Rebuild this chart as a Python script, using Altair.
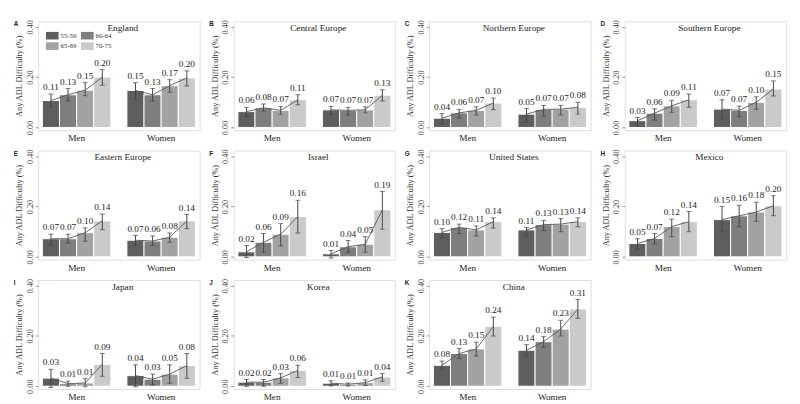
import altair as alt
import pandas as pd

ages = ["55-59", "60-64", "65-69", "70-75"]
sexes = ["Men", "Women"]
countries = ["England", "Central Europe", "Northern Europe", "Southern Europe",
             "Eastern Europe", "Israel", "United States", "Mexico",
             "Japan", "Korea", "China"]
letters = ["A", "B", "C", "D", "E", "F", "G", "H", "I", "J", "K"]

men_value = [
    [0.107, 0.130, 0.148, 0.200],
    [0.063, 0.078, 0.068, 0.110],
    [0.037, 0.058, 0.068, 0.097],
    [0.027, 0.057, 0.086, 0.110],
    [0.072, 0.072, 0.096, 0.143],
    [0.020, 0.058, 0.090, 0.160],
    [0.097, 0.117, 0.107, 0.140],
    [0.053, 0.073, 0.120, 0.140],
    [0.032, 0.010, 0.013, 0.087],
    [0.016, 0.016, 0.033, 0.063],
    [0.083, 0.130, 0.148, 0.237],
]
men_lo = [
    [0.083, 0.105, 0.126, 0.168],
    [0.046, 0.065, 0.052, 0.090],
    [0.015, 0.038, 0.050, 0.070],
    [0.010, 0.030, 0.060, 0.080],
    [0.046, 0.055, 0.062, 0.108],
    [-0.003, 0.018, 0.043, 0.095],
    [0.075, 0.093, 0.083, 0.115],
    [0.030, 0.052, 0.080, 0.100],
    [-0.005, 0.000, -0.002, 0.040],
    [0.000, 0.000, 0.012, 0.035],
    [0.068, 0.110, 0.120, 0.200],
]
men_hi = [
    [0.133, 0.155, 0.178, 0.230],
    [0.080, 0.093, 0.084, 0.130],
    [0.055, 0.072, 0.082, 0.117],
    [0.040, 0.074, 0.108, 0.133],
    [0.090, 0.090, 0.115, 0.170],
    [0.045, 0.093, 0.132, 0.225],
    [0.112, 0.130, 0.123, 0.155],
    [0.072, 0.093, 0.150, 0.180],
    [0.067, 0.020, 0.030, 0.130],
    [0.027, 0.027, 0.050, 0.083],
    [0.100, 0.150, 0.175, 0.275],
]
women_value = [
    [0.147, 0.130, 0.166, 0.197],
    [0.070, 0.068, 0.070, 0.128],
    [0.053, 0.072, 0.073, 0.080],
    [0.073, 0.068, 0.100, 0.153],
    [0.066, 0.063, 0.078, 0.143],
    [0.012, 0.040, 0.050, 0.187],
    [0.107, 0.128, 0.130, 0.140],
    [0.148, 0.163, 0.178, 0.203],
    [0.042, 0.028, 0.048, 0.082],
    [0.012, 0.008, 0.014, 0.037],
    [0.143, 0.177, 0.227, 0.307],
]
women_lo = [
    [0.112, 0.105, 0.140, 0.165],
    [0.052, 0.050, 0.058, 0.105],
    [0.022, 0.046, 0.050, 0.053],
    [0.034, 0.043, 0.072, 0.125],
    [0.045, 0.045, 0.058, 0.112],
    [-0.005, 0.018, 0.018, 0.110],
    [0.083, 0.105, 0.100, 0.120],
    [0.100, 0.120, 0.140, 0.163],
    [-0.002, 0.005, 0.012, 0.032],
    [0.002, 0.001, 0.003, 0.020],
    [0.120, 0.155, 0.200, 0.270],
]
women_hi = [
    [0.178, 0.155, 0.190, 0.225],
    [0.084, 0.080, 0.082, 0.150],
    [0.075, 0.088, 0.088, 0.100],
    [0.110, 0.085, 0.122, 0.185],
    [0.085, 0.083, 0.095, 0.168],
    [0.025, 0.065, 0.080, 0.260],
    [0.117, 0.145, 0.152, 0.155],
    [0.200, 0.205, 0.217, 0.243],
    [0.085, 0.048, 0.085, 0.130],
    [0.022, 0.013, 0.025, 0.050],
    [0.165, 0.197, 0.262, 0.345],
]

bar_colors = ["#5e5e5e", "#7e7e7e", "#a2a2a2", "#cacaca"]

W, H = 166, 112
SERIF = "Liberation Serif, Times New Roman, serif"


def panel(i):
    rows = []
    for sex, vals, los, his in [("Men", men_value, men_lo, men_hi),
                                ("Women", women_value, women_lo, women_hi)]:
        for j, age in enumerate(ages):
            rows.append({"sex": sex, "age": age, "value": vals[i][j],
                         "lo": los[i][j], "hi": his[i][j]})
    df = pd.DataFrame(rows)
    base = alt.Chart(df)
    x = alt.X("sex:N", scale=alt.Scale(domain=sexes, paddingInner=0.19, paddingOuter=0.05),
              axis=alt.Axis(title=None, labelAngle=0, ticks=False, domain=False,
                            labelFont=SERIF, labelFontSize=9.5, labelColor="#222",
                            labelPadding=3))
    xo = alt.XOffset("age:N", scale=alt.Scale(domain=ages, paddingInner=0, paddingOuter=0))
    yscale = alt.Scale(domain=[-0.011, 0.422], nice=False, zero=False)
    y = alt.Y("value:Q", scale=yscale,
              axis=alt.Axis(title="Any ADL Difficulty (%)", values=[0, 0.1, 0.2, 0.3, 0.4],
                            format=".2f", labelAngle=270, labelAlign="center",
                            labelBaseline="bottom", labelFont=SERIF, labelFontSize=8.5,
                            labelColor="#444", labelPadding=1, tickSize=3,
                            tickColor="#999", domain=False, grid=False,
                            titleFont=SERIF, titleFontSize=8.5, titleFontWeight="normal",
                            titleColor="#333", titlePadding=2))

    if i == 0:
        leg = alt.Legend(title=None, orient="top-left", offset=8, padding=0,
                         direction="horizontal", columns=2,
                         symbolType="M-1,-0.6H1V0.6H-1Z",
                         symbolSize=169, symbolStrokeWidth=0, symbolOpacity=1,
                         labelFont=SERIF, labelFontSize=7, labelColor="#333",
                         columnPadding=4, rowPadding=0, labelOffset=2)
    else:
        leg = None
    bars = base.mark_bar(stroke="white", strokeWidth=1).encode(
        x=x, xOffset=xo, y=y, y2=alt.datum(0),
        color=alt.Color("age:N", scale=alt.Scale(domain=ages, range=bar_colors), legend=leg),
    )
    rules = base.mark_rule(color="#444", strokeWidth=1, clip=True).encode(
        x=x, xOffset=xo, y=alt.Y("lo:Q", scale=yscale), y2="hi:Q")
    cap_lo = base.mark_tick(color="#444", size=5, thickness=1, clip=True).encode(
        x=x, xOffset=xo, y=alt.Y("lo:Q", scale=yscale))
    cap_hi = base.mark_tick(color="#444", size=5, thickness=1).encode(
        x=x, xOffset=xo, y=alt.Y("hi:Q", scale=yscale))
    line = base.mark_line(color="#555", strokeWidth=0.9).encode(
        x=x, xOffset=xo, y=alt.Y("value:Q", scale=yscale), detail="sex:N")
    labels = base.mark_text(baseline="bottom", dy=-2, font=SERIF, fontSize=9.5,
                            color="#222").encode(
        x=x, xOffset=xo, y=alt.Y("hi:Q", scale=yscale),
        text=alt.Text("value:Q", format=".2f"))
    title = alt.Chart(pd.DataFrame({"name": [countries[i]]})).mark_text(
        font=SERIF, fontSize=9.5, baseline="top", color="#222").encode(
        text="name:N", x=alt.value(W / 2 + 4), y=alt.value(2))
    letter = alt.Chart(pd.DataFrame({"l": [letters[i]]})).mark_text(
        font="Liberation Sans", fontSize=6.5, fontWeight="bold", align="left",
        baseline="top", color="#222").encode(
        text="l:N", x=alt.value(-25), y=alt.value(0))
    layers = [bars, rules, cap_lo, cap_hi, line, labels, title, letter]
    return alt.layer(*layers).properties(width=W, height=H)


chart = alt.concat(*[panel(i) for i in range(len(countries))], columns=4,
                   spacing={"row": 5, "column": 8}).resolve_scale(
    color="independent").resolve_legend(color="independent").configure_view(
    stroke="#bdbdbd", strokeWidth=1).configure(background="white")

chart.save("out.html", embed_options={"renderer": "svg", "actions": False})
